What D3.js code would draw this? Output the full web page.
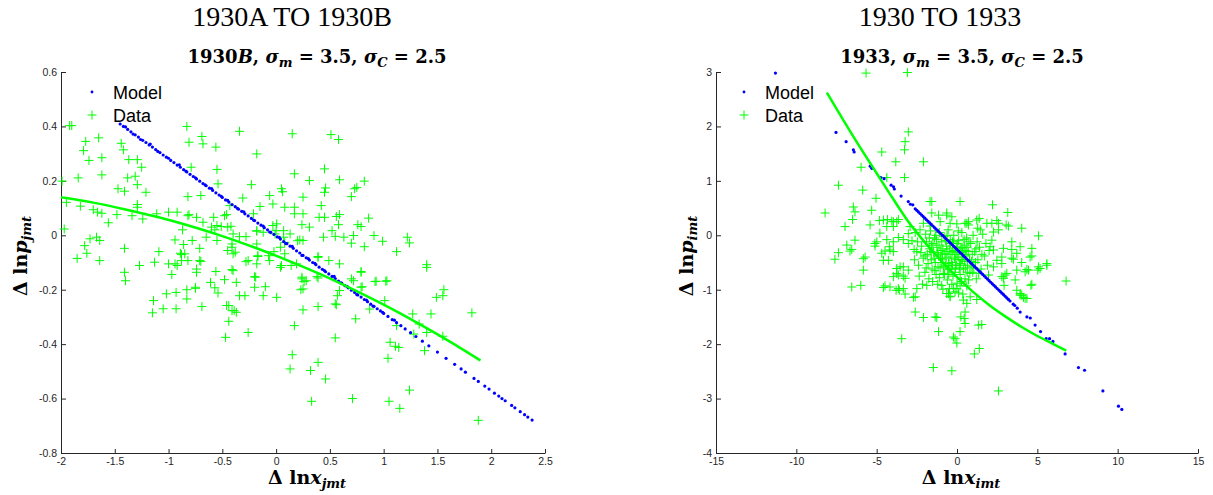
<!DOCTYPE html>
<html>
<head>
<meta charset="utf-8">
<script src="https://cdn.jsdelivr.net/npm/d3@7"></script>
<style>
    body { margin: 0; background: #fff; }
    svg { display: block; }
    .tick text { font-family: "Liberation Sans", Arial, sans-serif; font-size: 10.5px; fill: #262626; }
    .domain, .tick line { stroke: #262626; }
</style>
</head>
<body>
<svg id="fig" width="1213" height="495"></svg>
<script>
// Figure titles
const TITLES = ["1930A TO 1930B", "1930 TO 1933"];

// Ticks of both panels
const LEFT_X_TICKS = [-2, -1.5, -1, -0.5, 0, 0.5, 1, 1.5, 2, 2.5];
const LEFT_X_LABELS = ["-2", "-1.5", "-1", "-0.5", "0", "0.5", "1", "1.5", "2", "2.5"];
const LEFT_Y_TICKS = [-0.8, -0.6, -0.4, -0.2, 0, 0.2, 0.4, 0.6];
const LEFT_Y_LABELS = ["-0.8", "-0.6", "-0.4", "-0.2", "0", "0.2", "0.4", "0.6"];
const RIGHT_X_TICKS = [-15, -10, -5, 0, 5, 10, 15];
const RIGHT_X_LABELS = ["-15", "-10", "-5", "0", "5", "10", "15"];
const RIGHT_Y_TICKS = [-4, -3, -2, -1, 0, 1, 2, 3];
const RIGHT_Y_LABELS = ["-4", "-3", "-2", "-1", "0", "1", "2", "3"];

// 1930B: model points [x, y]
const LEFT_MODEL = [
    [-1.45,0.409],[-1.42,0.400],[-1.40,0.398],[-1.38,0.389],[-1.35,0.380],[-1.33,0.372],[-1.31,0.369],[-1.28,0.361],
    [-1.26,0.352],[-1.24,0.349],[-1.21,0.341],[-1.18,0.332],[-1.17,0.335],[-1.15,0.324],[-1.12,0.315],[-1.10,0.308],
    [-1.08,0.304],[-1.05,0.295],[-1.02,0.287],[-1.00,0.283],[-0.98,0.275],[-0.95,0.267],[-0.92,0.258],[-0.90,0.259],
    [-0.89,0.250],[-0.86,0.241],[-0.84,0.236],[-0.83,0.233],[-0.80,0.224],[-0.77,0.216],[-0.75,0.211],[-0.74,0.207],
    [-0.71,0.199],[-0.68,0.190],[-0.66,0.185],[-0.65,0.182],[-0.62,0.173],[-0.60,0.172],[-0.59,0.165],[-0.56,0.156],
    [-0.53,0.148],[-0.51,0.143],[-0.50,0.139],[-0.47,0.130],[-0.45,0.128],[-0.44,0.122],[-0.41,0.113],[-0.38,0.105],
    [-0.36,0.099],[-0.35,0.096],[-0.32,0.088],[-0.30,0.086],[-0.29,0.079],[-0.26,0.071],[-0.23,0.062],[-0.21,0.056],
    [-0.20,0.054],[-0.17,0.045],[-0.14,0.037],[-0.12,0.034],[-0.11,0.028],[-0.08,0.020],[-0.06,0.012],[-0.05,0.011],
    [-0.02,0.003],[0.01,-0.006],[0.03,-0.008],[0.04,-0.014],[0.07,-0.023],[0.09,-0.030],[0.10,-0.031],[0.13,-0.040],
    [0.15,-0.041],[0.16,-0.048],[0.19,-0.057],[0.22,-0.065],[0.24,-0.074],[0.25,-0.074],[0.28,-0.083],[0.30,-0.086],
    [0.31,-0.091],[0.34,-0.100],[0.36,-0.103],[0.37,-0.108],[0.40,-0.117],[0.43,-0.125],[0.45,-0.130],[0.46,-0.134],
    [0.49,-0.142],[0.52,-0.151],[0.54,-0.151],[0.55,-0.159],[0.58,-0.168],[0.60,-0.175],[0.61,-0.176],[0.64,-0.185],
    [0.66,-0.188],[0.67,-0.193],[0.70,-0.202],[0.73,-0.210],[0.75,-0.218],[0.76,-0.219],[0.79,-0.227],[0.82,-0.236],
    [0.84,-0.238],[0.85,-0.244],[0.88,-0.253],[0.90,-0.260],[0.91,-0.261],[0.94,-0.270],[0.97,-0.278],[0.99,-0.283],
    [1.00,-0.287],[1.04,-0.298],[1.08,-0.310],[1.10,-0.312],[1.12,-0.321],[1.16,-0.332],[1.20,-0.344],[1.25,-0.358],
    [1.30,-0.372],[1.36,-0.389],[1.42,-0.406],[1.50,-0.429],[1.58,-0.452],[1.66,-0.474],[1.72,-0.491],[1.76,-0.503],
    [1.84,-0.526],[1.88,-0.537],[1.94,-0.554],[1.98,-0.565],[2.03,-0.580],[2.07,-0.591],[2.10,-0.600],[2.13,-0.608],
    [2.19,-0.625],[2.22,-0.634],[2.27,-0.648],[2.31,-0.659],[2.34,-0.668],[2.38,-0.679]
];

// 1930B: data points [x, y]
const LEFT_DATA = [
    [-1.99,0.199],[-1.92,0.403],[-1.90,0.403],[-1.77,0.345],[-1.79,0.311],[-1.74,0.275],[-1.65,0.358],[-1.62,0.285],
    [-1.62,0.222],[-1.84,0.211],[-1.95,0.121],[-1.82,0.107],[-1.70,0.094],[-1.66,0.085],[-1.62,0.081],[-1.56,0.046],
    [-1.97,0.023],[-1.73,-0.013],[-1.67,-0.007],[-1.78,-0.038],[-1.76,-0.066],[-1.85,-0.085],[-1.64,-0.093],[-1.64,-0.019],
    [-1.48,0.076],[-1.47,0.171],[-1.41,0.162],[-1.44,0.338],[-1.42,0.314],[-1.37,0.278],[-1.29,0.278],[-1.25,0.25],
    [-1.38,0.211],[-1.31,0.217],[-1.29,0.186],[-1.21,0.158],[-1.29,0.113],[-1.29,0.103],[-1.34,0.072],[-1.24,0.06],
    [-1.41,-0.048],[-1.41,-0.136],[-1.40,-0.167],[-1.13,-0.099],[-1.09,-0.06],[-1.0,0.085],[-0.92,0.085],[-0.86,-0.034],
    [-0.88,-0.071],[-0.83,0.40],[-0.81,0.342],[-0.82,0.142],[-0.81,0.076],[-0.79,0.25],[-0.69,0.363],[-0.68,0.336],
    [-0.70,0.146],[-0.56,0.324],[-0.55,0.242],[-0.58,0.066],[-0.51,0.032],[-0.60,0.03],[-0.54,0.189],[-0.65,-0.007],
    [-0.55,-0.019],[-0.46,0.076],[-0.43,0.109],[-0.42,0.033],[-0.40,0.005],[-0.34,0.382],[-0.31,0.137],[-0.41,-0.032],
    [-0.40,-0.068],[-0.40,-0.13],[-0.18,0.299],[-0.23,0.186],[-0.15,0.106],[-0.21,0.079],[-0.18,0.017],[-0.18,-0.032],
    [-0.17,-0.078],[-0.06,0.146],[-0.03,0.115],[0.05,0.171],[0.005,0.042],[0.08,0.103],[0.15,0.373],[0.17,0.226],
    [0.17,0.103],[0.0,0.017],[-0.02,-0.06],[-0.06,-0.093],[0.19,-0.105],[0.04,-0.118],[0.08,-0.068],[0.04,-0.044],
    [0.13,0.005],[-1.0,-0.105],[-0.94,-0.105],[-0.88,-0.093],[-0.74,-0.124],[-0.71,-0.093],[-0.56,-0.133],[-0.61,-0.173],
    [-0.54,-0.212],[-0.37,-0.173],[-0.29,-0.222],[-0.20,-0.152],[-0.20,-0.191],[-0.10,-0.189],[0.005,-0.228],[-1.14,-0.24],
    [-1.02,-0.215],[-1.05,-0.27],[-0.93,-0.21],[-0.93,-0.27],[-0.83,-0.234],[-0.69,-0.262],[-0.83,-0.2],[-1.15,-0.285],
    [-0.75,-0.191],[-0.47,-0.375],[-0.44,-0.258],[-0.44,-0.316],[-0.39,-0.277],[-0.34,-0.222],[-0.26,-0.357],[-0.12,-0.222],
    [0.25,-0.197],[0.25,-0.274],[0.26,-0.17],[0.17,-0.332],[0.15,-0.439],[0.13,-0.491],[0.32,-0.497],[0.33,-0.61],
    [0.39,-0.467],[0.39,-0.262],[0.46,-0.528],[0.55,-0.377],[0.56,-0.255],[0.57,-0.222],[0.72,-0.167],[0.74,-0.307],
    [0.71,-0.60],[0.80,-0.189],[0.87,-0.271],[0.92,-0.17],[1.01,-0.24],[1.04,-0.452],[1.05,-0.61],[1.06,-0.393],
    [1.12,-0.332],[1.14,-0.412],[1.15,-0.636],[1.03,-0.167],[1.27,-0.289],[1.28,-0.363],[1.33,-0.326],[1.38,-0.424],
    [1.40,-0.357],[1.24,-0.569],[1.44,-0.289],[1.49,-0.228],[1.55,-0.222],[1.56,-0.2],[1.55,-0.371],[1.82,-0.285],
    [1.88,-0.68],[0.51,0.370],[0.58,0.352],[0.45,0.244],[0.31,0.201],[0.59,0.204],[0.82,0.199],[0.06,0.160],
    [0.46,0.174],[0.45,0.158],[0.75,0.176],[0.73,0.171],[0.70,0.142],[0.25,0.14],[0.42,0.109],[0.17,0.079],
    [0.25,0.079],[0.40,0.066],[0.45,0.066],[0.56,0.069],[0.59,0.076],[0.86,0.063],[0.24,0.039],[0.31,0.03],
    [0.58,0.039],[0.76,0.039],[0.79,0.032],[0.52,0.017],[0.07,0.017],[0.44,-0.007],[0.55,-0.004],[0.63,-0.007],
    [0.72,-0.001],[0.70,-0.029],[0.82,-0.042],[0.91,-0.001],[0.99,-0.022],[1.22,-0.007],[1.24,-0.028],[1.12,-0.06],
    [0.20,-0.02],[0.39,-0.081],[0.49,-0.093],[0.59,-0.105],[0.79,-0.136],[0.24,-0.16],[0.28,-0.167],[0.39,-0.157],
    [0.70,-0.16],[0.93,-0.169],[1.02,-0.169],[0.23,-0.2],[0.59,-0.203],[1.40,-0.108],[1.40,-0.118],[0.55,-0.252],
    [-1.27,-0.111],[-0.92,-0.111],[-0.97,-0.144],[-0.89,-0.066],[-0.85,-0.068],[-0.82,-0.093],[-0.71,-0.048],[-0.70,-0.096],
    [-0.74,-0.136],[-0.75,-0.195],[-0.94,-0.017],[-0.78,-0.019],[-0.57,-0.193],[-0.48,-0.163],[-0.41,-0.126],[-0.45,-0.056],
    [-0.38,-0.062],[-0.46,-0.258],[-0.41,-0.277],[-0.37,-0.283],[-0.28,-0.097],[-0.19,-0.154],[-0.18,-0.105],[-0.17,-0.075],
    [-0.07,-0.075],[0.05,-0.111],[-1.11,0.079],[-0.82,0.072],[-0.74,0.066],[-0.68,0.048],[-0.55,0.036],[-0.48,0.072],
    [-0.45,0.03],[-0.57,0.02],[-0.87,0.02],[-0.34,-0.005],[-0.28,-0.005],[-0.18,0.015],[-0.12,0.011],[-0.41,-0.044],
    [-0.26,-0.093],[-0.03,0.036],[-0.01,0.005],[0.07,-0.007],[0.08,-0.026],[0.14,-0.111],[0.22,-0.017],[0.25,-0.019],
    [0.24,-0.154],[0.38,-0.152],[0.39,-0.078],[0.79,-0.191],[0.79,-0.133],[1.11,-0.408]
];

// 1930B: fitted curve [x, y]
const LEFT_FIT = [
    [-2.0,0.140],[-1.7,0.120],[-1.4,0.095],[-1.1,0.067],[-0.8,0.034],[-0.5,-0.003],[-0.2,-0.045],
    [0.1,-0.091],[0.4,-0.141],[0.7,-0.196],[1.0,-0.255],[1.3,-0.319],[1.6,-0.387],[1.9,-0.460]
];

// 1933: model points [x, y]
const RIGHT_MODEL = [
    [-11.3,2.98],[-7.53,1.89],[-6.9,1.72],[-6.45,1.57],[-6.4,1.53],[-5.4,1.27],[-5.3,1.23],[-4.74,1.06],
    [-4.54,1.04],[-4.1,0.92],[-3.95,0.89],[-3.9,0.85],[-3.48,0.72],[-3.03,0.62],[-2.9,0.57],[-2.75,0.56],
    [-2.6,0.486],[-2.5,0.458],[-2.4,0.429],[-2.3,0.400],[-2.2,0.371],[-2.1,0.343],[-2.0,0.314],[-1.9,0.285],
    [-1.8,0.257],[-1.7,0.228],[-1.6,0.199],[-1.5,0.171],[-1.4,0.142],[-1.3,0.113],[-1.2,0.084],[-1.1,0.056],
    [-1.0,0.027],[-0.9,-0.002],[-0.8,-0.030],[-0.7,-0.059],[-0.6,-0.088],[-0.5,-0.117],[-0.4,-0.145],[-0.3,-0.174],
    [-0.2,-0.203],[-0.1,-0.231],[0.0,-0.26],[0.1,-0.289],[0.2,-0.317],[0.3,-0.346],[0.4,-0.375],[0.5,-0.404],
    [0.6,-0.432],[0.7,-0.461],[0.8,-0.490],[0.9,-0.518],[1.0,-0.547],[1.1,-0.576],[1.2,-0.604],[1.3,-0.633],
    [1.4,-0.662],[1.5,-0.691],[1.6,-0.719],[1.7,-0.748],[1.8,-0.777],[1.9,-0.805],[2.0,-0.834],[2.1,-0.863],
    [2.2,-0.891],[2.3,-0.920],[2.4,-0.949],[2.5,-0.978],[2.6,-1.006],[2.7,-1.035],[2.8,-1.064],[2.9,-1.092],
    [3.0,-1.121],[3.1,-1.150],[3.2,-1.178],[3.3,-1.207],[3.5,-1.265],[3.6,-1.29],[3.75,-1.34],[3.93,-1.41],
    [4.35,-1.5],[4.56,-1.52],[4.86,-1.65],[5.2,-1.77],[5.55,-1.9],[5.76,-1.9],[5.97,-1.95],[6.73,-2.18],
    [7.56,-2.43],[7.94,-2.48],[9.08,-2.86],[10.05,-3.14],[10.26,-3.2]
];

// 1933: data points [x, y]
const RIGHT_DATA = [
    [-5.66,2.98],[-3.09,2.99],[-3.03,1.90],[-3.23,1.72],[-3.27,1.57],[-4.68,1.53],[-3.81,1.35],[-2.09,1.35],
    [-5.97,1.25],[-4.37,1.06],[-3.27,1.06],[-7.38,0.92],[-5.87,0.83],[-5.04,0.68],[-5.31,0.46],[-6.45,0.52],
    [-6.35,0.43],[-6.5,0.29],[-8.21,0.41],[-5.41,0.19],[-6.97,0.16],[-6.35,-0.09],[-6.86,-0.18],[-7.38,-0.32],
    [-7.6,-0.44],[-6.66,-0.29],[-5.83,-0.43],[-5.83,-0.64],[-6.55,-0.95],[-5.99,-0.92],[-4.58,0.28],[-4.06,0.26],
    [-4.37,0.16],[-3.75,0.25],[-4.8,0.04],[-5.11,-0.15],[-4.68,-0.33],[-4.21,-0.21],[-4.27,-0.46],[-3.96,-0.30],
    [-3.54,-0.58],[-3.75,-0.7],[-3.34,-0.75],[-4.17,-0.95],[-3.79,-1.01],[-3.59,-1.01],[-4.58,-0.96],[-2.5,-0.98],
    [-2.71,-1.14],[-2.92,0.16],[-3.03,0.03],[-2.09,0.22],[-1.68,0.17],[-3.03,-0.15],[-2.67,-0.26],[-1.57,0.62],
    [-1.15,0.37],[-0.64,0.37],[0.19,0.62],[-0.43,0.22],[-0.01,0.21],[0.61,0.22],[2.21,0.56],[3.16,0.42],
    [-0.32,0.34],[1.38,0.31],[0.5,0.22],[0.71,0.19],[2.17,0.22],[2.58,0.22],[3.06,0.19],[3.2,0.17],
    [4.03,0.13],[1.29,0.13],[2.27,0.06],[5.07,-0.01],[3.41,-0.12],[3.93,-0.21],[4.66,-0.24],[4.66,-0.38],
    [2.06,-0.21],[2.27,-0.27],[3.72,-0.33],[3.41,-0.42],[2.79,-0.52],[4.03,-0.50],[5.59,-0.52],[5.17,-0.61],
    [5.03,-0.64],[4.45,-0.64],[4.24,-0.67],[3.72,-0.64],[2.99,-0.73],[3.62,-0.82],[6.79,-0.84],[4.66,-0.9],
    [3.72,-1.01],[3.93,-1.1],[4.35,-1.16],[-4.48,-0.93],[-3.23,-1.08],[-2.6,-1.41],[-2.09,-1.51],[-1.36,-1.5],
    [-1.26,-1.51],[-1.15,-1.77],[-0.95,-0.92],[-0.88,-0.99],[-0.53,-1.07],[-0.43,-1.12],[-0.47,-0.98],[-0.01,-0.98],
    [-0.12,-1.04],[0.36,-1.08],[0.4,-1.19],[0.61,-1.25],[0.5,-1.41],[0.24,-1.5],[0.45,-1.53],[0.19,-1.77],
    [-0.12,-1.9],[-0.01,-1.98],[-0.32,-2.49],[-1.47,-2.43],[-3.44,-1.9],[1.23,-1.18],[1.33,-1.65],[1.54,-1.64],
    [1.39,-2.08],[1.08,-2.18],[2.58,-2.86],[2.93,-0.92],[4.03,-1.1],[4.24,-1.16],[4.6,-0.92],[-1.68,0.62],
    [-1.57,0.41],[-0.64,0.41],[-4.83,0.27],[-4.33,0.29],[-3.96,0.25],[-3.96,0.16],[-3.65,0.29],[-1.05,0.25],
    [0.71,0.25],[1.23,0.28],[1.86,0.22],[2.48,0.27],[2.58,0.1],[-4.99,-0.12],[-5.1,-0.2],[-4.37,-0.08],
    [-3.96,-0.12],[-3.65,-0.04],[-3.34,-0.08],[-4.48,-0.29],[-4.17,-0.27],[-4.58,-0.46],[-5.72,-0.4],[-6.55,-0.26],
    [-3.75,-0.61],[-3.34,-0.58],[-3.03,-0.64],[-3.96,-0.76],[-3.23,-0.79],[-3.65,-0.73],[-3.65,-0.98],[-3.34,-0.98],
    [-2.6,-1.13],[-0.43,-1.13],[0.5,-1.62],[-0.22,-1.87],[0.82,-1.13],[-0.22,-0.98],[0.19,-0.93],[0.61,-0.93],
    [-0.64,-1.07],[0.09,-1.06],[2.89,-0.79],[3.1,-0.7],[3.93,-1.07],[4.14,-1.14],[5.59,-0.55],[5.07,-0.58],
    [4.55,-0.4],[3.41,-0.26],[3.51,-0.44],[4.35,-0.63],[2.17,-0.09],[2.89,-0.24],[2.79,-0.4],[2.48,-0.46],
    [2.27,-0.58],[1.96,-0.73],[2.79,-0.76],
    [-2.8,-0.1],[-2.6,0.05],[-2.5,-0.3],[-2.4,-0.55],[-2.3,0.1],[-2.2,-0.2],[-2.1,-0.42],[-2.0,-0.68],
    [-1.95,0.02],[-1.9,-0.12],[-1.85,-0.35],[-1.8,-0.52],[-1.75,-0.8],[-1.7,-0.25],[-1.65,0.08],[-1.6,-0.45],
    [-1.55,-0.62],[-1.5,-0.15],[-1.45,-0.32],[-1.4,-0.05],[-1.35,-0.5],[-1.3,-0.72],[-1.25,-0.22],[-1.2,-0.9],
    [-1.15,-0.38],[-1.1,0.05],[-1.05,-0.6],[-1.0,-0.28],[-0.95,-0.12],[-0.9,-0.45],[-0.85,-0.7],[-0.8,-0.02],
    [-0.75,-0.33],[-0.7,-0.55],[-0.65,-0.2],[-0.6,-0.82],[-0.55,0.1],[-0.5,-0.4],[-0.45,-0.62],[-0.4,-0.15],
    [-0.35,-0.5],[-0.3,-0.3],[-0.25,-0.75],[-0.2,0.0],[-0.15,-0.42],[-0.1,-0.6],[-0.05,-0.22],[0.0,-0.88],
    [0.05,-0.35],[0.1,-0.1],[0.15,-0.55],[0.2,-0.72],[0.25,-0.25],[0.3,0.05],[0.35,-0.45],[0.4,-0.62],
    [0.45,-0.18],[0.5,-0.8],[0.55,-0.38],[0.6,-0.05],[0.65,-0.55],[0.7,-0.3],[0.8,-0.7],[0.85,-0.15],
    [0.9,-0.48],[1.0,0.0],[1.05,-0.6],[1.1,-0.3],[1.2,-0.8],[1.25,-0.12],[1.3,-0.45],[1.4,-0.22],
    [1.5,-0.62],[1.6,0.02],[1.7,-0.38],[1.8,-0.15],[1.9,-0.55],[2.0,-0.28],[-2.65,-0.45],[-2.35,-0.75],
    [-1.98,-0.38],[-1.72,-0.05],[-1.52,-0.85],[-1.28,-0.08],[-1.08,-0.78],[-0.88,-0.25],[-0.68,-0.42],[-0.58,-0.62],
    [-0.48,-0.25],[-0.38,-0.35],[-0.28,-0.55],[-0.18,-0.28],[-0.08,-0.45],[0.02,-0.15],[0.12,-0.4],[0.22,-0.52],
    [0.32,-0.22],[0.42,-0.35],[0.52,-0.6],[0.72,-0.82],[0.95,-0.35],[1.15,-0.5],[1.35,-0.7],[1.55,-0.35],
    [-0.98,-0.5],[-1.18,-0.58],[-1.38,-0.65],[-1.62,-0.3],[-0.72,-0.1],[-0.42,-0.08],[-0.12,-0.68],[0.28,-0.85],
    [0.62,-0.22],[0.78,-0.45],[-2.15,-0.9],[-1.88,-0.92],[-0.32,-0.9],[0.08,0.08],[-0.62,0.0],[1.45,0.1],
    [-2.45,-0.12],[0.98,-0.68],[-0.52,-0.52],[-0.22,-0.15],[0.18,-0.28],[-0.82,-0.58],[-1.12,-0.18],[0.48,-0.48],
    [-1.42,-0.42],[-1.22,-0.32],[-0.92,-0.35],[-0.62,-0.3],[-0.36,-0.62],[-0.02,-0.55],[0.34,-0.32],[0.64,-0.68],
    [-1.58,-0.18],[-1.32,0.0],[-0.78,-0.72],[-0.28,-0.12],[0.14,-0.62],[0.44,-0.08],[0.88,-0.58],[1.18,-0.25],
    [-2.25,-0.32],[-1.92,-0.6],[-1.02,-0.42],[-0.52,-0.72],[-0.06,-0.32],[0.26,-0.45],[0.56,-0.28],[0.74,-0.12]
];

// 1933: fitted curve [x, y]
const RIGHT_FIT = [
    [-8.1,2.62],[-7,2.08],[-6,1.60],[-5,1.14],[-4,0.68],[-3,0.24],[-2,-0.13],[-1,-0.46],
    [0,-0.77],[1,-1.04],[2,-1.28],[3,-1.49],[4,-1.68],[5,-1.85],[6,-2.00],[6.8,-2.12]
];

const AXIS_COLOR = "#262626";
const MODEL_COLOR = "#0000ff";
const DATA_COLOR = "#00ff00";
const SERIF = '"Liberation Serif", "Times New Roman", serif';
const MATH = '"DejaVu Serif", serif';
const SANS = '"Liberation Sans", Arial, sans-serif';

const svg = d3.select("#fig");

drawPanel({
    xRange: [61, 545], yRange: [453, 72],
    xDomain: [-2, 2.5], yDomain: [-0.8, 0.6],
    xTicks: LEFT_X_TICKS, xLabels: LEFT_X_LABELS,
    yTicks: LEFT_Y_TICKS, yLabels: LEFT_Y_LABELS,
    model: LEFT_MODEL, data: LEFT_DATA, fit: LEFT_FIT,
    title: TITLES[0], titleX: 292,
    subYear: "1930", subLetter: "B", subX: 317,
    sub: "j", xLabelX: 307, yLabelX: 27, yLabelY: 256,
    legendX: 92
});

drawPanel({
    xRange: [716, 1198], yRange: [453, 72],
    xDomain: [-15, 15], yDomain: [-4, 3],
    xTicks: RIGHT_X_TICKS, xLabels: RIGHT_X_LABELS,
    yTicks: RIGHT_Y_TICKS, yLabels: RIGHT_Y_LABELS,
    model: RIGHT_MODEL, data: RIGHT_DATA, fit: RIGHT_FIT,
    title: TITLES[1], titleX: 940,
    subYear: "1933", subLetter: "", subX: 962,
    sub: "i", xLabelX: 961, yLabelX: 693, yLabelY: 256,
    legendX: 744
});

function crossPath(cx, cy, r) {
    return `M${cx - r},${cy}H${cx + r}M${cx},${cy - r}V${cy + r}`;
}

function drawPanel(p) {
    const x = d3.scaleLinear().domain(p.xDomain).range(p.xRange);
    const y = d3.scaleLinear().domain(p.yDomain).range(p.yRange);
    const g = svg.append("g");

    // Axes (MATLAB style, ticks pointing inward, box off)
    g.append("g")
        .attr("transform", `translate(0,${p.yRange[0]})`)
        .call(d3.axisBottom(x).tickValues(p.xTicks).tickFormat((d, i) => p.xLabels[i])
            .tickSizeInner(-4).tickSizeOuter(0).tickPadding(5));
    g.append("g")
        .attr("transform", `translate(${p.xRange[0]},0)`)
        .call(d3.axisLeft(y).tickValues(p.yTicks).tickFormat((d, i) => p.yLabels[i])
            .tickSizeInner(-5).tickSizeOuter(0).tickPadding(4));
    g.selectAll(".domain, .tick line").attr("stroke", AXIS_COLOR).attr("stroke-width", 1);

    // Data points
    g.append("g").selectAll("path")
        .data(p.data)
        .join("path")
        .attr("d", d => crossPath(x(d[0]), y(d[1]), 4.5))
        .attr("stroke", DATA_COLOR)
        .attr("stroke-width", 1)
        .attr("fill", "none");

    // Model points
    g.append("g").selectAll("circle")
        .data(p.model)
        .join("circle")
        .attr("cx", d => x(d[0]))
        .attr("cy", d => y(d[1]))
        .attr("r", 1.6)
        .attr("fill", MODEL_COLOR);

    // Fitted curve
    g.append("path")
        .datum(p.fit)
        .attr("d", d3.line().x(d => x(d[0])).y(d => y(d[1])).curve(d3.curveMonotoneX))
        .attr("fill", "none")
        .attr("stroke", DATA_COLOR)
        .attr("stroke-width", 2.5);

    // Legend
    const lg = g.append("g").attr("font-family", SANS).attr("font-size", 18).attr("fill", "#000");
    lg.append("circle").attr("cx", p.legendX).attr("cy", 92).attr("r", 1.4).attr("fill", MODEL_COLOR);
    lg.append("path").attr("d", crossPath(p.legendX, 115, 4.5)).attr("stroke", DATA_COLOR).attr("fill", "none");
    lg.append("text").attr("x", p.legendX + 21).attr("y", 99).text("Model");
    lg.append("text").attr("x", p.legendX + 21).attr("y", 122).text("Data");

    // Figure title
    svg.append("text")
        .attr("x", p.titleX).attr("y", 26)
        .attr("text-anchor", "middle")
        .attr("font-family", SERIF)
        .attr("font-size", 28)
        .text(p.title);

    // Subplot title
    const st = svg.append("text")
        .attr("x", p.subX).attr("y", 63)
        .attr("text-anchor", "middle")
        .attr("font-family", MATH)
        .attr("font-weight", "bold")
        .attr("font-size", 18);
    st.append("tspan").text(p.subYear);
    if (p.subLetter) st.append("tspan").attr("font-style", "italic").text(p.subLetter);
    st.append("tspan").text(", ");
    st.append("tspan").attr("font-style", "italic").text("σ");
    st.append("tspan").attr("font-style", "italic").attr("font-size", 13).attr("dy", 4).text("m");
    st.append("tspan").attr("dy", -4).text(" = 3.5, ");
    st.append("tspan").attr("font-style", "italic").text("σ");
    st.append("tspan").attr("font-style", "italic").attr("font-size", 13).attr("dy", 4).text("C");
    st.append("tspan").attr("dy", -4).text(" = 2.5");

    // Axis labels
    axisLabel(svg.append("text").attr("x", p.xLabelX).attr("y", 484), "x", p.sub);
    axisLabel(svg.append("text")
        .attr("transform", `translate(${p.yLabelX},${p.yLabelY}) rotate(-90)`), "p", p.sub);
}

function axisLabel(t, v, s) {
    t.attr("text-anchor", "middle")
        .attr("font-family", MATH)
        .attr("font-weight", "bold")
        .attr("font-size", 19);
    t.append("tspan").text("Δ ln");
    t.append("tspan").attr("font-style", "italic").text(v);
    t.append("tspan").attr("font-style", "italic").attr("font-size", 13).attr("dy", 4).text(s + "mt");
}
</script>
</body>
</html>
